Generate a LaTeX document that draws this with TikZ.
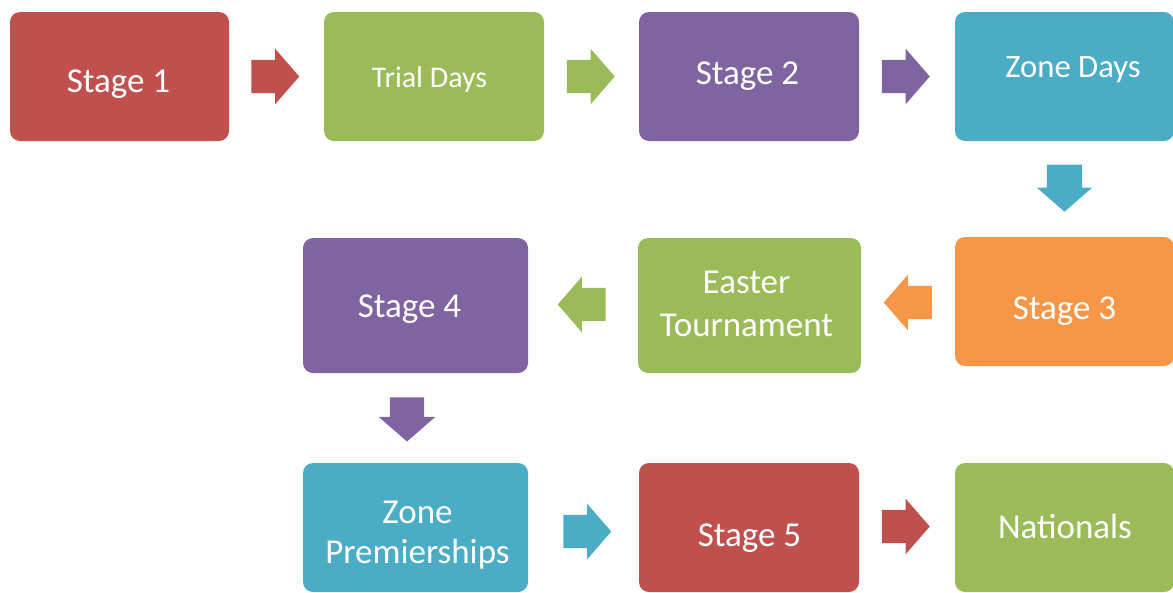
\documentclass[tikz,border=0pt]{standalone}
\usepackage{fontspec}
\setmainfont{Carlito}
\usetikzlibrary{shapes.arrows,calc}
\definecolor{cred}{HTML}{C0504D}
\definecolor{cgreen}{HTML}{9BBB59}
\definecolor{cpurple}{HTML}{8064A2}
\definecolor{ccyan}{HTML}{4BACC6}
\definecolor{corange}{HTML}{F79646}
\newcommand\txtat[3]{\raisebox{#2}[\height][\depth]{\hspace*{#1}#3\hspace*{-#1}}}
\tikzset{
  stagebox/.style={rectangle, rounded corners=10pt, inner sep=0pt, outer sep=0pt,
    text=white, font=\fontsize{35}{42}\selectfont, align=center},
  blockarrow/.style={single arrow, fill=#1, draw=none, inner xsep=0pt, inner ysep=16.5pt,
    single arrow head extend=11pt, single arrow tip angle=98, minimum width=0pt,
    minimum height=48pt, outer sep=0pt},
  downarrow/.style={blockarrow=#1, shape border rotate=270, inner xsep=17pt, inner ysep=0pt}
}
\begin{document}
\begin{tikzpicture}[x=1pt,y=-1pt]
\useasboundingbox (0,0) rectangle (1173,592);
% row 1
\node[stagebox, fill=cred, minimum width=219pt, minimum height=129pt] (s1) at (119.5,76.5) {\txtat{-1pt}{-8pt}{Stage 1}};
\node[stagebox, fill=cgreen, minimum width=220pt, minimum height=129pt, font=\fontsize{30}{36}\selectfont] (td) at (434,76.5) {\txtat{-4.5pt}{-3pt}{Trial Days}};
\node[stagebox, fill=cpurple, minimum width=220pt, minimum height=129pt] (s2) at (749,76.5) {\txtat{-1.5pt}{0.5pt}{Stage 2}};
\node[stagebox, fill=ccyan, minimum width=219pt, minimum height=129pt, font=\fontsize{32.7}{39}\selectfont] (zd) at (1064.5,76.5) {\txtat{8.5pt}{6.5pt}{Zone Days}};
% row 2
\node[stagebox, fill=corange, minimum width=219pt, minimum height=129pt] (s3) at (1064.5,301.5) {\txtat{0pt}{-9.5pt}{Stage 3}};
\node[stagebox, fill=cgreen, minimum width=223pt, minimum height=135pt] (et) at (749.5,305.5) {\txtat{-3pt}{-1pt}{\begin{tabular}{@{}c@{}}Easter\\[1pt]Tournament\end{tabular}}};
\node[stagebox, fill=cpurple, minimum width=225pt, minimum height=135pt] (s4) at (415.5,305.5) {\txtat{-6pt}{-4pt}{Stage 4}};
% row 3
\node[stagebox, fill=ccyan, minimum width=225pt, minimum height=129pt] (zp) at (415.5,527.5) {\txtat{2pt}{-8pt}{\begin{tabular}{@{}c@{}}Zone\\[-2pt]Premierships\end{tabular}}};
\node[stagebox, fill=cred, minimum width=220pt, minimum height=129pt] (s5) at (749,527.5) {\txtat{0.5pt}{-10.5pt}{Stage 5}};
\node[stagebox, fill=cgreen, minimum width=219pt, minimum height=129pt] (na) at (1064.5,527.5) {\txtat{0.5pt}{1pt}{Nationals}};
% arrows
\node[blockarrow=cred] (a1) at ($(s1.east)!0.5!(td.west)+(-8.5,0)$) {};
\node[blockarrow=cgreen] (a2) at ($(td.east)!0.5!(s2.west)+(-8,0)$) {};
\node[blockarrow=cpurple] (a3) at ($(s2.east)!0.5!(zd.west)+(-8.5,0)$) {};
\node[downarrow=ccyan, minimum height=47pt, inner xsep=17.5pt, single arrow head extend=10pt] (a4) at ($(zd.south)!0.5!(s3.north)+(0,-8.5)$) {};
\node[blockarrow=corange, shape border rotate=180] (a5) at ($(et.east)!0.5!(s3.west)+(7,-1)$) {};
\node[blockarrow=cgreen, shape border rotate=180] (a6) at ($(s4.east)!0.5!(et.west)+(6,-1)$) {};
\node[downarrow=cpurple, minimum height=44pt, single arrow head extend=11pt] (a7) at ($(s4.south)!0.5!(zp.north)+(-8.5,-6)$) {};
\node[blockarrow=ccyan] (a8) at ($(zp.east)!0.5!(s5.west)+(-3.5,4)$) {};
\node[blockarrow=cred] (a9) at ($(s5.east)!0.5!(na.west)+(-8.5,-1)$) {};
\end{tikzpicture}
\end{document}
